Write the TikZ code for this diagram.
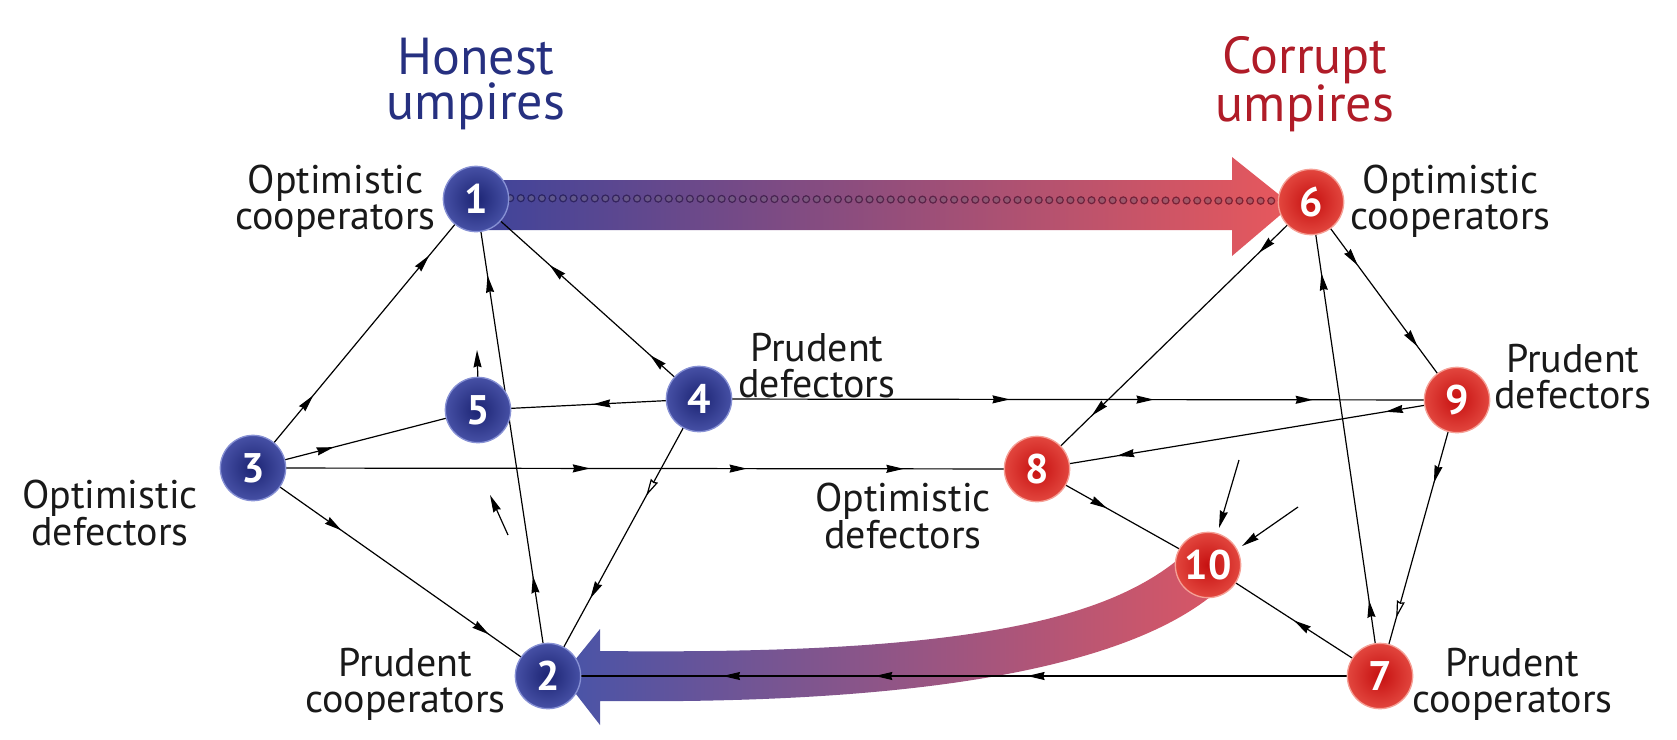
\documentclass[tikz,border=0pt]{standalone}
\usepackage{fontspec}
\setmainfont{PT Sans}
\usetikzlibrary{arrows.meta,decorations.markings,calc}
\pgfdeclarelayer{bg}
\pgfsetlayers{bg,main}
\definecolor{hblue}{RGB}{38,48,128}
\definecolor{cred}{RGB}{176,28,40}
\definecolor{hin}{RGB}{28,36,115}
\definecolor{hout}{RGB}{70,80,165}
\definecolor{hrim}{RGB}{135,145,212}
\definecolor{rin}{RGB}{198,16,16}
\definecolor{rout}{RGB}{226,70,62}
\definecolor{rrim}{RGB}{245,160,150}
\definecolor{topL}{RGB}{62,68,155}
\definecolor{topR}{RGB}{232,88,92}
\definecolor{botL}{RGB}{72,84,168}
\definecolor{botR}{RGB}{218,86,100}
\definecolor{dotB}{RGB}{30,26,90}
\definecolor{dotR}{RGB}{120,20,35}
\definecolor{labcol}{RGB}{25,25,25}
\tikzset{
  ahead/.tip={Stealth[length=13pt,width=6pt,inset=1pt]},
  ln/.style={draw=black, line width=0.9pt},
  arrat/.style={postaction={decorate,decoration={markings,mark=at position #1 with {\arrow{ahead}}}}},
  oarrat/.style={postaction={decorate,decoration={markings,mark=at position #1 with {\arrow{Stealth[length=13pt,width=6pt,inset=1pt,fill=white]}}}}},
  hn/.style={circle, minimum size=49pt, inner sep=0pt, inner color=hin, outer color=hout, draw=hrim, line width=1pt, text=white, font=\fontsize{31}{31}\selectfont\bfseries},
  cn/.style={circle, minimum size=49pt, inner sep=0pt, inner color=rin, outer color=rout, draw=rrim, line width=1pt, text=white, font=\fontsize{31}{31}\selectfont\bfseries},
  lab/.style={align=center, inner sep=0pt, text=labcol, font=\fontsize{30}{27}\selectfont},
  ttl/.style={align=center, inner sep=0pt, font=\fontsize{39}{34}\selectfont},
}
\begin{document}
\begin{tikzpicture}[x=0.75pt,y=-0.75pt]
\useasboundingbox (0,0) rectangle (1677,739);
% nodes
\node[hn] (n1) at (476,199) {1};
\node[hn] (n2) at (548,676) {2};
\node[hn] (n3) at (253,468) {3};
\node[hn] (n4) at (699,399) {4};
\node[hn] (n5) at (478,410) {5};
\node[cn] (n6) at (1311,202) {6};
\node[cn] (n7) at (1380,676) {7};
\node[cn] (n8) at (1037,469) {8};
\node[cn] (n9) at (1457,400) {9};
\node[cn] (n10) at (1208,565) {10};
% titles
\node[ttl, text=hblue] (th) at (476,84) {Honest\\umpires};
\node[ttl, text=cred] (tc) at (1305,84) {Corrupt\\umpires};
% labels
\node[lab, anchor=east] (l1) at (436,201) {Optimistic\\cooperators};
\node[lab, anchor=west] (l6) at (1350,201) {Optimistic\\cooperators};
\node[lab, anchor=west] (l4) at (738,366) {Prudent\\defectors};
\node[lab, anchor=west] (l9) at (1494,377) {Prudent\\defectors};
\node[lab] (l3) at (110,513) {Optimistic\\defectors};
\node[lab] (l8) at (903,516) {Optimistic\\defectors};
\node[lab, anchor=east] (l2) at (506,684) {Prudent\\cooperators};
\node[lab, anchor=west] (l7) at (1412,684) {Prudent\\cooperators};
% free arrow coordinates
\coordinate (f1a) at (478,382); \coordinate (f1b) at (477,350);
\coordinate (f2a) at (508,535); \coordinate (f2b) at (490,495);
\coordinate (f3a) at (1239,460); \coordinate (f3b) at (1219,528);
\coordinate (f4a) at (1298,507); \coordinate (f4b) at (1242,546);
\begin{pgfonlayer}{bg}
% top broad arrow 1 -> 6
\shade[left color=topL, right color=topR]
  (476,180) -- (1232,180) -- (1232,157) -- (1292,205) -- (1232,256) -- (1232,230) -- (476,230) -- cycle;
\foreach \i in {0,...,73}{
  \pgfmathsetmacro\t{0.041+0.924*\i/73}
  \pgfmathtruncatemacro\p{100*\i/73}
  \draw[draw=dotR!\p!dotB, fill=dotR!\p!dotB!70!white, line width=0.9pt, opacity=0.8]
    ($(n1)!\t!(n6)+(0,-1)$) circle (2.6pt);
}
% bottom broad curved arrow 10 -> 2
\shade[left color=botL, right color=botR]
  (1190,549) .. controls (1113,622) and (960,655) .. (600,651)
  -- (600,629) -- (562,676) -- (600,725) -- (600,701)
  .. controls (960,705) and (1147,658) .. (1224,585) -- cycle;
% connectors
\draw[ln, arrat=0.27, arrat=0.79] (n3.center) -- (n1.center);
\draw[ln, arrat=0.21, arrat=0.84] (n2.center) -- (n1.center);
\draw[ln, arrat=0.22, arrat=0.67] (n4.center) -- (n1.center);
\draw[ln, arrat=0.36] (n3.center) -- (n5.center);
\draw[ln, arrat=0.48] (n4.center) -- (n5.center);
\draw[ln, arrat=0.43, arrat=0.63, arrat=0.83] (n3.center) -- (n8.center);
\draw[ln, arrat=0.3, arrat=0.8] (n3.center) -- (n2.center);
\draw[ln, oarrat=0.35, arrat=0.72] (n4.center) -- (n2.center);
\draw[ln, arrat=0.41, arrat=0.60, arrat=0.81] (n4.center) -- (n9.center);
\draw[ln, arrat=0.19, arrat=0.80] (n6.center) -- (n8.center);
\draw[ln, arrat=0.32, arrat=0.73] (n6.center) -- (n9.center);
\draw[ln, arrat=0.16, arrat=0.85] (n7.center) -- (n6.center);
\draw[ln, arrat=0.17, arrat=0.81] (n9.center) -- (n8.center);
\draw[ln, arrat=0.30, oarrat=0.79] (n9.center) -- (n7.center);
\draw[ln, arrat=0.41] (n8.center) -- (n10.center);
\draw[ln, arrat=0.5] (n7.center) -- (n10.center);
\draw[ln, arrat=0.424, arrat=0.607, arrat=0.79] (n7.center) -- (n2.center);
% free arrows
\draw[ln, -{ahead}] (f1a) -- (f1b);
\draw[ln, -{ahead}] (f2a) -- (f2b);
\draw[ln, -{ahead}] (f3a) -- (f3b);
\draw[ln, -{ahead}] (f4a) -- (f4b);
\end{pgfonlayer}
\end{tikzpicture}
\end{document}
